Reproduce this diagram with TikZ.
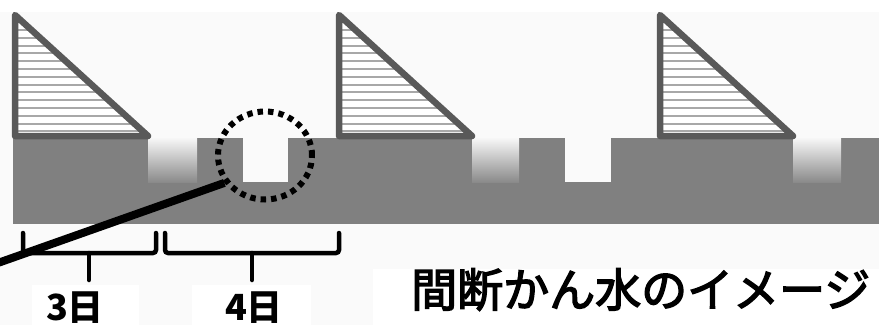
\documentclass[tikz,border=0pt]{standalone}
\usepackage{fontspec}
\newfontfamily\jpfont{Noto Sans CJK JP}
\newfontfamily\jptitlefont[FakeBold=3]{Noto Sans CJK JP}
\usetikzlibrary{shapes.geometric}
\definecolor{bggray}{HTML}{FAFAFA}
\definecolor{bargray}{HTML}{808080}
\definecolor{edgegray}{HTML}{595959}
\definecolor{stripegray}{HTML}{A8A8A8}
\tikzset{
  bar/.style={fill=bargray, draw=none},
  notchgrad/.style={top color=white!97!black, bottom color=bargray!92!white, draw=none},
  tri/.style={draw=edgegray, line width=6.5pt, line join=round},
  stripe/.style={draw=stripegray, line width=2pt},
  bracepath/.style={draw=black, line width=4.5pt, rounded corners=3pt, line cap=round},
  daytext/.style={font=\jpfont\bfseries\fontsize{36}{36}\selectfont, text=black, inner sep=0pt, anchor=north},
  titletext/.style={font=\jptitlefont\fontsize{46}{46}\selectfont, text=black, inner sep=0pt, anchor=north west},
  spotcircle/.style={ellipse, draw=black, line width=6pt, dash pattern=on 5.5pt off 5pt, minimum width=94pt, minimum height=88pt, inner sep=0pt},
  pointer/.style={draw=black, line width=8pt}
}
\begin{document}
\begin{tikzpicture}[x=1pt, y=-1pt]
\useasboundingbox (0,0) rectangle (879,325);
\fill[white] (0,0) rectangle (879,325);
\fill[bggray] (0,12) rectangle (879,325);
% label boxes
\fill[white] (32,285) rectangle (139,325);
\fill[white] (192,285) rectangle (311,325);
\fill[white] (373,269) rectangle (879,325);
% ground bar
\path[bar] (13,182) rectangle (879,224);
\path[bar] (13,138) rectangle (148,182);
\path[bar] (197,138) rectangle (243,182);
\path[bar] (288,138) rectangle (472,182);
\path[bar] (519,138) rectangle (565,182);
\path[bar] (611,138) rectangle (793,182);
\path[bar] (841,138) rectangle (879,182);
% gradient notches
\shade[notchgrad] (148,138) rectangle (197,182);
\shade[notchgrad] (472,138) rectangle (519,182);
\shade[notchgrad] (793,138) rectangle (841,182);
% triangles
\foreach \xa in {15,339,660} {
  \begin{scope}
    \clip (\xa,15) -- (\xa,136) -- (\xa+133,136) -- cycle;
    \fill[white] (\xa,15) rectangle (\xa+133,136);
    \foreach \yy in {0,...,13} {
      \draw[stripe] (\xa,30+7.8*\yy) -- (\xa+133,30+7.8*\yy);
    }
  \end{scope}
  \draw[tri] (\xa,15) -- (\xa,136) -- (\xa+133,136) -- cycle;
}
% dotted circle and pointer
\node[spotcircle] (spot) at (265,155.5) {};
\coordinate (pstart) at (-5,264);
\draw[pointer] (pstart) -- (spot.214);
% braces
\coordinate (b1tip) at (89,280);
\coordinate (b2tip) at (252,280);
\draw[bracepath] (23,233) -- (23,253) -- (156,253) -- (156,233);
\draw[bracepath] (89,253) -- (b1tip);
\draw[bracepath] (165,233) -- (165,253) -- (339,253) -- (339,233);
\draw[bracepath] (252,253) -- (b2tip);
% labels
\node[daytext] (d3) at (75,292) {3日};
\node[daytext] (d4) at (254,292) {4日};
\node[titletext] (title) at (411,268) {間断かん水のイメージ};
\end{tikzpicture}
\end{document}
